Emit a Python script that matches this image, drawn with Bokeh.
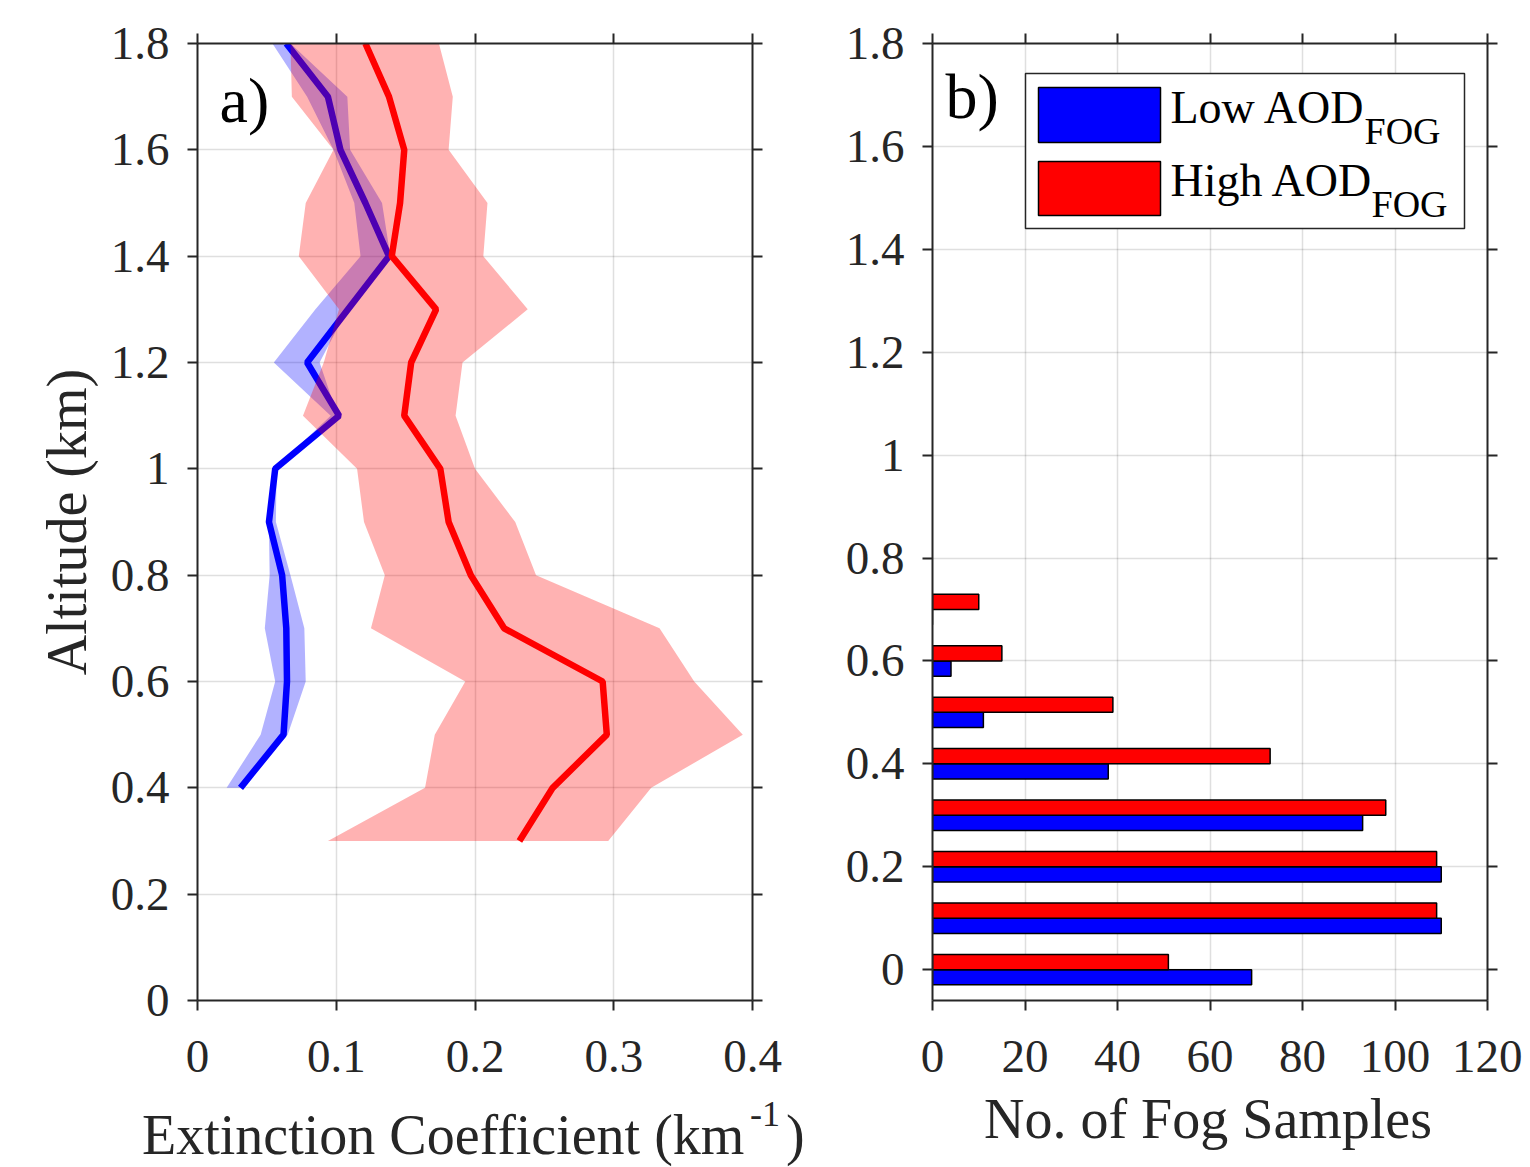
from bokeh.plotting import figure
from bokeh.models import Range1d, FixedTicker, LinearAxis, Label, BoxAnnotation, ColumnDataSource, Div
from bokeh.transform import dodge
from bokeh.layouts import row, column
from bokeh.embed import file_html
from bokeh.resources import INLINE

# ---------------- data ----------------
alt_high = [0.3, 0.4, 0.5, 0.6, 0.7, 0.8, 0.9, 1.0, 1.1, 1.2, 1.3, 1.4, 1.5, 1.6, 1.7, 1.8]
high_mean = [0.232, 0.256, 0.295, 0.292, 0.221, 0.197, 0.181, 0.175, 0.149, 0.154,
             0.172, 0.140, 0.146, 0.149, 0.138, 0.121]
high_low = [0.094, 0.164, 0.171, 0.193, 0.125, 0.135, 0.120, 0.115, 0.076, 0.091,
            0.102, 0.073, 0.078, 0.098, 0.068, 0.067]
high_up = [0.296, 0.327, 0.393, 0.358, 0.333, 0.244, 0.229, 0.200, 0.186, 0.191,
           0.238, 0.206, 0.209, 0.181, 0.184, 0.174]

alt_low = [0.4, 0.5, 0.6, 0.7, 0.8, 0.9, 1.0, 1.1, 1.2, 1.3, 1.4, 1.5, 1.6, 1.7, 1.8]
low_mean = [0.031, 0.062, 0.0645, 0.064, 0.061, 0.0515, 0.056, 0.102, 0.079, 0.1085,
            0.138, 0.121, 0.103, 0.094, 0.064]
low_low = [0.021, 0.0455, 0.056, 0.0485, 0.052, 0.0514, 0.0555, 0.096, 0.055, 0.085,
           0.1175, 0.113, 0.098, 0.079, 0.054]
low_up = [0.031, 0.065, 0.078, 0.077, 0.067, 0.0565, 0.057, 0.101, 0.088, 0.108,
          0.139, 0.133, 0.110, 0.108, 0.067]

alt_bins = [0.0, 0.1, 0.2, 0.3, 0.4, 0.5, 0.6, 0.7]
low_counts = [69, 110, 110, 93, 38, 11, 4, 0]
high_counts = [51, 109, 109, 98, 73, 39, 15, 10]

alt_ticks = [0.0, 0.2, 0.4, 0.6, 0.8, 1.0, 1.2, 1.4, 1.6, 1.8]
alt_tick_labels = ["0", "0.2", "0.4", "0.6", "0.8", "1", "1.2", "1.4", "1.6", "1.8"]
ext_ticks = [0.0, 0.1, 0.2, 0.3, 0.4]
ext_tick_labels = ["0", "0.1", "0.2", "0.3", "0.4"]
count_ticks = [0, 20, 40, 60, 80, 100, 120]
count_tick_labels = ["0", "20", "40", "60", "80", "100", "120"]

# ---------------- style ----------------
FONT = "Liberation Serif"
TXT = "#262626"
TICK_FS = "47px"
LABEL_FS = "56px"

H = 1100
TOP, BOTTOM = 43, 100


def style_axis(ax):
    ax.axis_line_color = TXT
    ax.axis_line_width = 2
    ax.major_tick_line_color = TXT
    ax.major_tick_line_width = 2
    ax.major_tick_out = 10
    ax.major_tick_in = 0
    ax.minor_tick_line_color = None
    ax.major_label_text_font = FONT
    ax.major_label_text_color = TXT
    ax.major_label_text_font_size = TICK_FS
    ax.axis_label_text_font = FONT
    ax.axis_label_text_font_style = "normal"
    ax.axis_label_text_color = TXT
    ax.axis_label_text_font_size = LABEL_FS


def frame_box(p, xt, xl, yt, yl, ylabel):
    p.outline_line_color = None
    bx_ = p.below[0]
    ly_ = p.left[0]
    bx_.ticker = FixedTicker(ticks=xt)
    ly_.ticker = FixedTicker(ticks=yt)
    bx_.major_label_overrides = dict(zip(xt, xl))
    ly_.major_label_overrides = dict(zip(yt, yl))
    for ax in (bx_, ly_):
        style_axis(ax)
    bx_.major_label_standoff = 30
    ly_.major_label_standoff = 18
    if ylabel:
        ly_.axis_label = ylabel
        ly_.axis_label_standoff = 10
    top = LinearAxis(ticker=FixedTicker(ticks=xt), major_label_overrides={t: "" for t in xt})
    right = LinearAxis(ticker=FixedTicker(ticks=yt), major_label_overrides={t: "" for t in yt})
    for ax in (top, right):
        style_axis(ax)
        ax.major_label_standoff = 0
    p.add_layout(top, "above")
    p.add_layout(right, "right")
    p.xgrid.ticker = FixedTicker(ticks=xt)
    p.ygrid.ticker = FixedTicker(ticks=yt)
    for g in (p.xgrid, p.ygrid):
        g.grid_line_color = TXT
        g.grid_line_alpha = 0.15
        g.grid_line_width = 1.5


def add_text(p, fx, fy, px, py, txt, fs, color="black"):
    # baseline position in page pixels -> data; small correction for the renderer's baseline
    shift = round(0.33 * fs)
    p.add_layout(Label(x=fx(px), y=fy(py - shift), text=txt, text_font=FONT,
                       text_font_size=f"{fs}px", text_color=color, text_baseline="alphabetic"))


# ---------------- panel a ----------------
pa = figure(width=835, height=H, x_range=Range1d(0, 0.4), y_range=Range1d(0, 1.8),
            output_backend="svg", toolbar_location=None,
            min_border_left=197, min_border_right=83, min_border_top=TOP, min_border_bottom=BOTTOM)
frame_box(pa, ext_ticks, ext_tick_labels, alt_ticks, alt_tick_labels, "Altitude (km)")

pa.harea(x1=low_low, x2=low_up, y=alt_low, fill_color="blue", fill_alpha=0.3)
pa.line(low_mean, alt_low, line_color="blue", line_width=6.5)
pa.harea(x1=high_low, x2=high_up, y=alt_high, fill_color="red", fill_alpha=0.3)
pa.line(high_mean, alt_high, line_color="red", line_width=6.5)


def ax_a(px):
    return (px - 197) / 1387.0


def ay_a(py):
    return (1000 - py) / 531.67


add_text(pa, ax_a, ay_a, 219, 121, "a)", 64)

# ---------------- panel b ----------------
pb = figure(width=687, height=H, x_range=Range1d(0, 120), y_range=Range1d(-0.06, 1.8),
            output_backend="svg", toolbar_location=None,
            min_border_left=97, min_border_right=35, min_border_top=TOP, min_border_bottom=BOTTOM)
frame_box(pb, count_ticks, count_tick_labels, alt_ticks, alt_tick_labels, None)

src = ColumnDataSource(dict(alt=alt_bins, low=low_counts, high=high_counts))
pb.hbar(y=dodge("alt", -0.0148, range=pb.y_range), left=0, right="low", height=0.0296,
        source=src, fill_color="blue", line_color="black", line_width=1.5)
pb.hbar(y=dodge("alt", 0.0148, range=pb.y_range), left=0, right="high", height=0.0296,
        source=src, fill_color="red", line_color="black", line_width=1.5)


def bx(px):
    return (px - 932) / 555.0 * 120


def by(py):
    return 1.8 - (py - 43) / 957.0 * 1.86


add_text(pb, bx, by, 945, 117, "b)", 64)
pb.add_layout(BoxAnnotation(left=bx(1025), right=bx(1464), top=by(73), bottom=by(228),
                            fill_color="white", fill_alpha=1, line_color=TXT, line_alpha=1,
                            line_width=1.5))
pb.add_layout(BoxAnnotation(left=bx(1038), right=bx(1160), top=by(87), bottom=by(142),
                            fill_color="blue", fill_alpha=1, line_color="black", line_alpha=1,
                            line_width=1.5))
pb.add_layout(BoxAnnotation(left=bx(1038), right=bx(1160), top=by(161), bottom=by(215),
                            fill_color="red", fill_alpha=1, line_color="black", line_alpha=1,
                            line_width=1.5))
for txt, px, py, fs in [("Low AOD", 1170, 122, 46), ("FOG", 1364, 143, 38),
                        ("High AOD", 1170, 195, 46), ("FOG", 1371, 216, 38)]:
    add_text(pb, bx, by, px, py, txt, fs)

# ---------------- x-axis titles (with superscript) ----------------
span = ("position:absolute;left:{l}px;top:{t}px;font-size:{fs}px;line-height:{fs}px;"
        "white-space:nowrap;")
label_html = (
    '<div style="position:relative;width:1522px;height:67px;overflow:visible;'
    "font-family:'Liberation Serif';color:#262626;\">"
    f'<span style="{span.format(l=142, t=7, fs=56)}">Extinction Coefficient (km</span>'
    f'<span style="{span.format(l=750, t=-4, fs=36)}">-1</span>'
    f'<span style="{span.format(l=786, t=7, fs=56)}">)</span>'
    f'<span style="{span.format(l=984, t=-9, fs=56)}">No. of Fog Samples</span>'
    "</div>"
)
titles = Div(text=label_html, width=1522, height=67, margin=0,
             styles={"overflow": "visible"})

layout = column(row(pa, pb), titles)
open("out.html", "w").write(file_html(layout, INLINE))
